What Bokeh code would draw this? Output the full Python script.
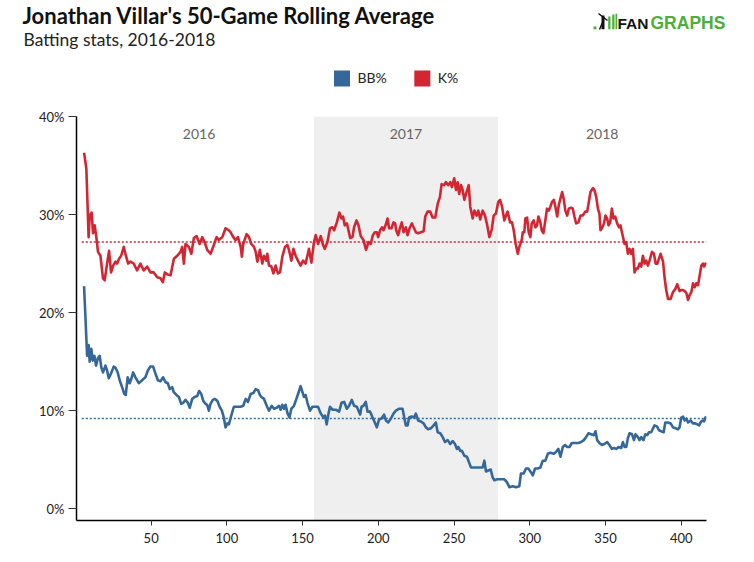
from bokeh.plotting import figure
from bokeh.layouts import column
from bokeh.models import (ColumnDataSource, Range1d, FixedTicker, PrintfTickFormatter,
                          BoxAnnotation, Label, LabelSet)
from bokeh.core.properties import value
from bokeh.embed import file_html
from bokeh.resources import INLINE

# ---------------- data ----------------
k_games = [5.7, 7.2, 8.7, 9.4, 10.7, 11.6, 12.7, 13.8, 14.9, 16.5, 18.2, 19.3, 20.9, 22.2, 23.5, 24.9, 26.4, 27.5,
           28.8, 30.2, 31.9, 33.0, 34.8, 36.3, 38.5, 40.7, 42.9, 45.1, 47.4, 49.5, 51.7, 54.0, 56.2, 57.7, 59.0,
           60.6, 62.8, 65.0, 67.2, 69.4, 70.5, 71.6, 72.7, 74.9, 76.5, 78.2, 80.0, 82.0, 83.7, 85.3, 87.0, 89.2,
           91.4, 93.2, 94.7, 97.0, 99.1, 101.3, 102.4, 104.2, 105.8, 107.3, 109.1, 109.9, 110.8, 113.0, 114.6,
           116.1, 117.9, 119.0, 120.1, 121.8, 123.4, 124.5, 126.1, 126.7, 127.8, 129.4, 130.7, 132.2, 133.7,
           135.1, 136.6, 138.4, 139.9, 141.0, 142.6, 143.9, 145.4, 146.9, 148.7, 150.3, 152.0, 154.2, 155.8,
           157.5, 158.7, 160.2, 162.0, 163.3, 164.6, 166.4, 168.1, 169.7, 170.8, 172.6, 174.3, 175.7, 176.7,
           177.8, 179.2, 180.0, 181.4, 182.9, 184.0, 185.6, 186.9, 188.4, 190.2, 191.9, 193.5, 195.0, 196.4,
           197.7, 199.0, 199.9, 201.2, 202.5, 203.4, 204.8, 206.1, 207.1, 208.7, 210.0, 211.1, 211.8, 213.1,
           214.4, 215.5, 216.7, 218.2, 219.3, 220.6, 222.2, 223.3, 224.8, 226.3, 228.1, 229.9, 231.0, 232.5,
           234.3, 235.8, 237.6, 239.2, 240.7, 241.8, 243.6, 244.6, 246.2, 247.5, 248.6, 250.1, 251.3, 252.4,
           253.4, 254.6, 255.7, 256.8, 258.3, 259.7, 260.7, 262.3, 263.4, 264.9, 266.0, 267.3, 268.9, 270.4,
           271.8, 273.3, 274.9, 276.2, 277.7, 279.2, 280.4, 281.7, 283.2, 284.3, 285.4, 287.0, 288.3, 289.4,
           290.7, 292.1, 293.1, 294.7, 295.4, 296.4, 297.1, 298.2, 299.3, 300.4, 301.3, 302.6, 303.7, 304.8,
           305.7, 307.0, 307.9, 309.0, 310.1, 311.4, 312.6, 313.6, 314.7, 315.9, 316.9, 318.1, 319.2, 320.2,
           321.4, 322.5, 323.5, 324.7, 325.8, 327.3, 328.4, 329.5, 330.6, 332.1, 333.5, 335.0, 336.6, 337.9,
           338.8, 340.1, 341.7, 342.7, 343.9, 345.0, 346.0, 346.7, 347.7, 349.0, 350.0, 351.1, 352.0, 353.1,
           354.2, 355.3, 356.4, 357.7, 358.9, 359.9, 361.0, 362.6, 363.7, 364.8, 365.9, 367.0, 368.1, 369.2,
           370.3, 371.4, 372.5, 373.6, 374.7, 375.8, 376.9, 378.0, 379.1, 380.7, 382.0, 383.1, 384.2, 385.3,
           386.4, 388.0, 389.0, 390.1, 391.3, 393.0, 394.6, 396.1, 397.4, 398.9, 400.1, 401.2, 402.3, 403.4,
           404.5, 405.6, 406.7, 407.8, 408.9, 410.0, 411.1, 412.2, 413.3, 414.4, 415.1, 416.5]
k_pct = [36.3, 34.7, 27.7, 29.9, 30.2, 28.1, 28.9, 27.7, 26.2, 25.8, 23.5, 23.3, 25.0, 26.3, 24.1, 24.8, 25.2, 25.0,
         25.5, 25.8, 26.7, 26.0, 25.0, 25.2, 25.0, 24.3, 25.0, 24.3, 24.7, 24.1, 24.1, 23.6, 23.5, 23.1, 24.1,
         23.9, 23.8, 25.5, 25.8, 26.2, 26.7, 25.0, 27.0, 26.7, 26.0, 27.6, 27.8, 27.0, 27.7, 27.2, 26.4, 26.0,
         26.9, 27.7, 27.4, 27.7, 28.6, 28.4, 28.2, 27.7, 27.4, 27.7, 26.7, 25.7, 27.0, 28.0, 27.7,
         27.0, 26.7, 26.2, 25.2, 26.4, 25.0, 25.8, 25.3, 26.0, 24.8, 24.7, 24.0, 24.8, 24.0,
         24.1, 25.7, 26.7, 26.9, 26.4, 25.3, 26.5, 25.8, 25.3, 24.8, 25.3, 25.0, 26.5, 25.1,
         27.2, 27.9, 27.0, 27.8, 27.0, 26.5, 27.2, 28.6, 28.7, 28.4, 29.2, 30.2, 29.6, 29.8,
         28.9, 29.1, 28.6, 27.6, 27.7, 28.7, 29.4, 28.9, 27.8, 27.4, 26.4, 27.2, 27.0, 27.9,
         28.2, 28.2, 27.7, 28.4, 28.7, 28.4, 28.9, 29.6, 28.6, 28.6, 29.2, 29.1, 28.4, 27.9,
         28.7, 29.2, 28.2, 28.7, 27.9, 28.6, 29.1, 28.7, 28.2, 28.1, 28.2, 28.3, 29.8, 30.3,
         30.3, 29.7, 29.7, 31.1, 31.8, 33.1, 33.0, 33.3, 33.0, 33.3, 32.8, 33.7, 32.5, 33.3,
         32.1, 33.0, 32.5, 31.5, 32.3, 33.0, 30.8, 29.6, 30.4, 29.9, 30.4, 29.5, 30.4, 29.9,
         29.0, 27.7, 28.5, 29.9, 30.1, 31.3, 31.5, 30.8, 29.4, 29.9, 30.3, 29.2, 29.2, 28.4,
         27.0, 26.0, 26.7, 27.4, 28.2, 28.2, 29.6, 29.7, 28.2, 27.7, 29.1, 29.4, 28.7, 28.9,
         29.8, 29.2, 28.4, 28.1, 29.2, 30.6, 30.4, 30.8, 31.3, 31.5, 30.8, 29.8, 31.0, 31.6,
         32.3, 31.5, 30.4, 29.9, 30.6, 30.7, 30.6, 29.8, 29.1, 29.2, 29.9, 29.9, 30.3, 30.3,
         31.1, 32.3, 32.7, 32.5, 31.8, 30.6, 30.1, 28.4, 28.6, 29.1, 29.9, 29.6, 28.9, 29.2,
         30.6, 29.6, 29.8, 29.1, 28.7, 28.9, 28.1, 27.0, 27.2, 26.0, 26.5, 26.0, 26.5, 24.1,
         24.5, 24.5, 25.0, 24.7, 25.8, 25.0, 25.3, 24.8, 25.3, 26.2, 26.0, 25.0, 25.0, 25.5,
         26.0, 25.2, 23.6, 22.3, 21.4, 21.4, 22.1, 22.4, 22.9, 22.2, 22.3, 22.3, 22.2, 22.0,
         21.3, 21.8, 22.1, 23.0, 22.6, 23.0, 22.8, 23.8, 24.8, 25.0, 24.7, 25.1]

bb_games = [5.7, 6.5, 7.7, 8.7, 9.4, 10.5, 11.4, 12.5, 13.6, 14.9, 16.0, 17.1, 18.2, 19.8, 20.9, 22.0, 23.5, 25.3,
            26.4, 27.9, 29.2, 30.8, 32.3, 33.2, 34.5, 35.8, 36.8, 38.1, 39.6, 41.8, 44.0, 46.2, 47.8, 49.5, 51.3,
            52.8, 54.4, 56.2, 57.9, 59.5, 61.0, 62.3, 63.9, 64.9, 66.7, 68.3, 69.8, 71.2, 72.7, 74.2, 75.5, 77.1,
            78.6, 80.4, 81.7, 83.1, 84.4, 85.9, 87.0, 88.1, 89.2, 90.7, 92.1, 93.7, 95.2, 96.7, 98.0, 99.1, 100.3,
            101.3, 102.9, 104.6, 106.9, 109.1, 110.8, 112.4, 113.9, 115.7, 117.5, 119.0, 120.5, 121.8, 122.8,
            124.5, 126.3, 127.8, 129.6, 131.1, 132.9, 134.4, 135.5, 136.6, 137.7, 138.8, 139.9, 141.3, 142.6,
            144.3, 145.9, 147.0, 148.7, 149.9, 150.9, 152.0, 153.2, 154.9, 156.5, 158.7, 160.2, 162.0, 163.8,
            164.8, 165.9, 167.1, 168.1, 169.7, 171.9, 174.1, 175.7, 177.4, 179.2, 180.7, 182.5, 184.0, 185.8,
            188.0, 188.9, 190.2, 191.7, 192.9, 194.6, 196.2, 197.7, 199.0, 200.5, 202.1, 203.8, 205.0, 206.5,
            208.3, 210.0, 211.6, 213.8, 216.0, 217.1, 218.2, 219.3, 220.4, 222.0, 223.7, 224.8, 226.3, 228.1,
            229.9, 231.4, 232.9, 234.7, 236.5, 238.0, 239.2, 240.9, 242.5, 244.0, 245.8, 247.5, 249.1, 250.6,
            251.9, 252.8, 254.1, 255.2, 256.8, 258.5, 259.7, 261.2, 263.4, 265.6, 267.3, 268.9, 270.0, 271.1,
            272.6, 274.2, 275.5, 276.6, 278.6, 281.0, 283.2, 285.0, 286.5, 288.8, 290.9, 293.1, 294.2, 296.0,
            297.5, 299.0, 300.9, 302.0, 303.5, 305.3, 307.0, 308.6, 310.3, 311.9, 313.6, 315.9, 317.4, 318.9,
            320.3, 321.8, 323.3, 324.7, 326.2, 327.8, 330.0, 332.1, 333.9, 335.7, 337.2, 338.8, 340.5, 342.3,
            343.4, 344.5, 346.0, 347.6, 349.3, 351.1, 352.6, 354.2, 355.6, 357.1, 358.6, 360.4, 361.5, 362.6,
            363.7, 364.8, 365.9, 367.5, 368.8, 369.8, 371.4, 372.5, 373.6, 375.1, 376.3, 377.6, 378.7, 380.2,
            381.4, 382.4, 384.0, 385.3, 386.8, 388.4, 389.5, 391.3, 393.0, 394.6, 396.3, 397.9, 398.9, 400.1,
            401.2, 402.3, 403.4, 404.5, 406.2, 407.8, 409.3, 410.6, 411.8, 412.8, 413.9, 415.1, 416.0, 416.5]
bb_pct = [22.7, 19.9, 15.6, 16.7, 15.0, 16.3, 15.1, 15.6, 14.6, 15.4, 15.6, 14.4, 13.9, 14.6, 14.1, 13.3, 13.8, 14.5,
          14.4, 13.9, 13.1, 12.4, 11.7, 11.6, 13.4, 12.8, 13.2, 13.9, 13.4, 12.8, 13.1, 13.4, 14.1, 14.5, 14.5,
          13.8, 13.1, 13.0, 13.4, 12.9, 12.8, 12.2, 12.4, 11.9, 11.6, 11.4, 10.7, 10.8, 11.1, 10.8, 10.3, 11.2,
          11.4, 11.5, 12.0, 11.7, 11.0, 10.7, 10.6, 10.0, 10.7, 11.1, 11.2, 11.0, 10.4, 10.0, 9.3, 8.3, 8.7,
          8.6, 9.5, 10.4, 10.4, 10.4, 10.5, 11.2, 10.9, 11.7, 11.8, 12.2, 12.1, 11.6, 11.4,
          11.2, 10.5, 10.0, 10.5, 10.2, 10.3, 10.5, 10.1, 10.6, 10.2, 10.6, 9.8, 9.3, 10.2,
          10.5, 11.2, 11.7, 12.5, 11.9, 11.4, 11.6, 10.8, 10.0, 10.4, 10.4, 10.4, 9.7, 9.3,
          9.5, 8.6, 9.7, 10.4, 10.1, 10.1, 9.9, 10.8, 10.9, 10.2, 10.5, 11.1, 10.5, 10.4,
          9.6, 10.4, 10.5, 10.9, 9.9, 9.9, 9.3, 8.8, 8.3, 9.1, 9.2, 9.6, 9.0, 8.8,
          9.2, 9.7, 10.0, 10.2, 10.2, 9.3, 8.5, 8.5, 9.3, 9.4, 9.3, 9.7, 9.0, 8.9,
          8.7, 8.3, 8.1, 8.2, 8.5, 8.8, 7.8, 7.7, 7.3, 6.8, 7.0, 6.6, 6.9, 6.6,
          6.1, 6.3, 5.9, 5.9, 5.4, 5.3, 4.8, 4.2, 4.2, 4.2, 4.2, 4.2, 4.9, 3.8,
          3.9, 4.0, 3.2, 2.9, 3.0, 3.0, 3.0, 2.7, 2.2, 2.3, 2.2, 2.3, 3.6, 3.6,
          4.1, 4.1, 3.7, 3.4, 4.1, 4.1, 4.2, 4.9, 4.9, 5.6, 5.7, 5.6, 5.8, 6.1,
          5.3, 6.3, 6.5, 6.3, 6.3, 6.7, 6.7, 6.7, 6.8, 7.0, 7.3, 7.7, 7.6, 7.5,
          7.9, 7.0, 6.7, 6.5, 6.6, 6.8, 6.5, 6.1, 6.2, 6.1, 6.3, 6.2, 6.8, 6.3,
          6.3, 7.2, 7.7, 7.6, 7.0, 7.6, 7.3, 7.0, 7.3, 7.0, 7.6, 7.5, 7.8, 7.8,
          8.2, 8.5, 8.4, 8.0, 7.9, 7.8, 8.8, 8.8, 8.7, 8.3, 8.2, 8.1, 8.3, 9.3,
          9.4, 9.0, 9.2, 8.8, 9.0, 8.7, 8.7, 8.6, 8.5, 8.8, 9.0, 8.9, 9.3, 9.4]

k_avg = 27.2
bb_avg = 9.2

years = ["2016", "2017", "2018"]
year_bounds = [5.7, 157.5, 279.0, 416.7]   # season boundaries in game number

x_ticks = [50, 100, 150, 200, 250, 300, 350, 400]
y_ticks = [0, 10, 20, 30, 40]

series_names = ["BB%", "K%"]
title_text = "Jonathan Villar's 50-Game Rolling Average"
subtitle_text = "Batting stats, 2016-2018"

# ---------------- styling ----------------
BLUE = "#35689a"
RED = "#d22633"
GREEN = "#4caf39"
FONT = "Lato"
W = 754
H_HDR = 100


def ty(page_y):
    """header: convert a page-pixel y (from top) to header data y (from bottom)"""
    return H_HDR - page_y


# ---------------- header (title, subtitle, logo, legend) ----------------
hdr = figure(width=W, height=H_HDR, output_backend="svg", toolbar_location=None, title=None,
             x_range=Range1d(0, W), y_range=Range1d(0, H_HDR),
             x_axis_location=None, y_axis_location=None,
             min_border=0, min_border_left=0, min_border_right=0, min_border_top=0, min_border_bottom=0)
hdr.outline_line_color = None
hdr.xgrid.visible = False
hdr.ygrid.visible = False
hdr.background_fill_color = "white"
hdr.border_fill_color = "white"

hdr.add_layout(Label(x=22, y=ty(14.7), text=title_text,
                     text_font=FONT, text_font_size="22px", text_font_style="bold",
                     text_color="#111111", text_baseline="alphabetic"))
hdr.add_layout(Label(x=23, y=ty(39.0), text=subtitle_text,
                     text_font=FONT, text_font_size="17.5px",
                     text_color="#222222", text_baseline="alphabetic"))

# FanGraphs wordmark
hdr.add_layout(Label(x=617, y=ty(22.7), text="FAN",
                     text_font="Liberation Sans", text_font_size="15.5px", text_font_style="bold",
                     text_color="#111111", text_baseline="alphabetic"))
hdr.add_layout(Label(x=650, y=ty(22.7), text="GRAPHS",
                     text_font="Liberation Sans", text_font_size="17.5px", text_font_style="bold",
                     text_color=GREEN, text_baseline="alphabetic"))
logo_l = [593, 601, 607.7, 611.7, 615]
logo_r = [596, 604, 610, 614, 616.7]
logo_t = [ty(26), ty(15), ty(16), ty(14), ty(13.3)]
logo_c = [GREEN, "#111111", GREEN, GREEN, GREEN]
hdr.quad(left=logo_l, right=logo_r, top=logo_t, bottom=[ty(28.7)] * 5, fill_color=logo_c, line_color=None)
hdr.line([598, 607], [ty(13), ty(20)], line_color="#111111", line_width=1.5)
hdr.line([602, 599], [ty(22), ty(29)], line_color="#111111", line_width=1.5)

# legend: square swatches + labels
leg_colors = [BLUE, RED]
leg_x = [333.5, 413.8]
hdr.quad(left=leg_x, right=[x + 16 for x in leg_x], top=[ty(70)] * 2, bottom=[ty(86)] * 2,
         fill_color=leg_colors, line_color=None)
lsrc = ColumnDataSource(dict(x=[x + 23.5 for x in leg_x], y=[ty(77)] * 2, t=series_names))
hdr.add_layout(LabelSet(x="x", y="y", text="t", source=lsrc, text_baseline="middle",
                        text_font=value(FONT), text_font_size="14px", text_color="#222222"))

# ---------------- main chart ----------------
p = figure(width=W, height=462, output_backend="svg", toolbar_location=None, title=None,
           x_range=Range1d(0.7, 416.7), y_range=Range1d(-1.2, 40.0),
           min_border_left=76, min_border_right=48, min_border_top=16, min_border_bottom=42)
p.background_fill_color = "white"
p.border_fill_color = "white"
p.outline_line_color = None
p.xgrid.visible = False
p.ygrid.visible = False

for fig in (hdr, p):
    try:
        fig.frame_align = False
    except Exception:
        pass

# 2017 shading
p.add_layout(BoxAnnotation(left=year_bounds[1], right=year_bounds[2], fill_color="#efefef",
                           fill_alpha=1.0, line_color=None, level="underlay"))

# average lines
p.line([k_games[0] - 1.5, k_games[-1]], [k_avg, k_avg], line_color=RED, line_width=1.5, line_dash="2 2")
p.line([bb_games[0] - 1.5, bb_games[-1]], [bb_avg, bb_avg], line_color=BLUE, line_width=1.5, line_dash="2 2")

# series
p.line(k_games, k_pct, line_color=RED, line_width=2.6, line_join="round")
p.line(bb_games, bb_pct, line_color=BLUE, line_width=2.6, line_join="round")

# year labels
mids = [(year_bounds[i] + year_bounds[i + 1]) / 2 for i in range(3)]
ysrc = ColumnDataSource(dict(x=mids, y=[382] * 3, t=years))
p.add_layout(LabelSet(x="x", y="y", text="t", source=ysrc, y_units="screen",
                      text_align="center", text_baseline="alphabetic",
                      text_font=value(FONT), text_font_size="14px", text_color="#666666"))

# axes
for ax in (p.xaxis[0], p.yaxis[0]):
    ax.axis_line_color = "black"
    ax.axis_line_width = 1.5
    ax.major_tick_line_color = "#333333"
    ax.major_tick_line_width = 1
    ax.major_tick_in = 0
    ax.minor_tick_line_color = None
    ax.major_label_text_font = FONT
    ax.major_label_text_font_size = "13px"
    ax.major_label_text_color = "#222222"

p.yaxis.ticker = FixedTicker(ticks=y_ticks)
p.yaxis.formatter = PrintfTickFormatter(format="%d%%")
p.yaxis.major_tick_out = 8
p.yaxis.major_label_standoff = 4
p.xaxis.ticker = FixedTicker(ticks=x_ticks)
p.xaxis.major_tick_out = 5
p.xaxis.major_label_standoff = 7

layout = column(hdr, p, spacing=0)
open("out.html", "w").write(file_html(layout, INLINE))
